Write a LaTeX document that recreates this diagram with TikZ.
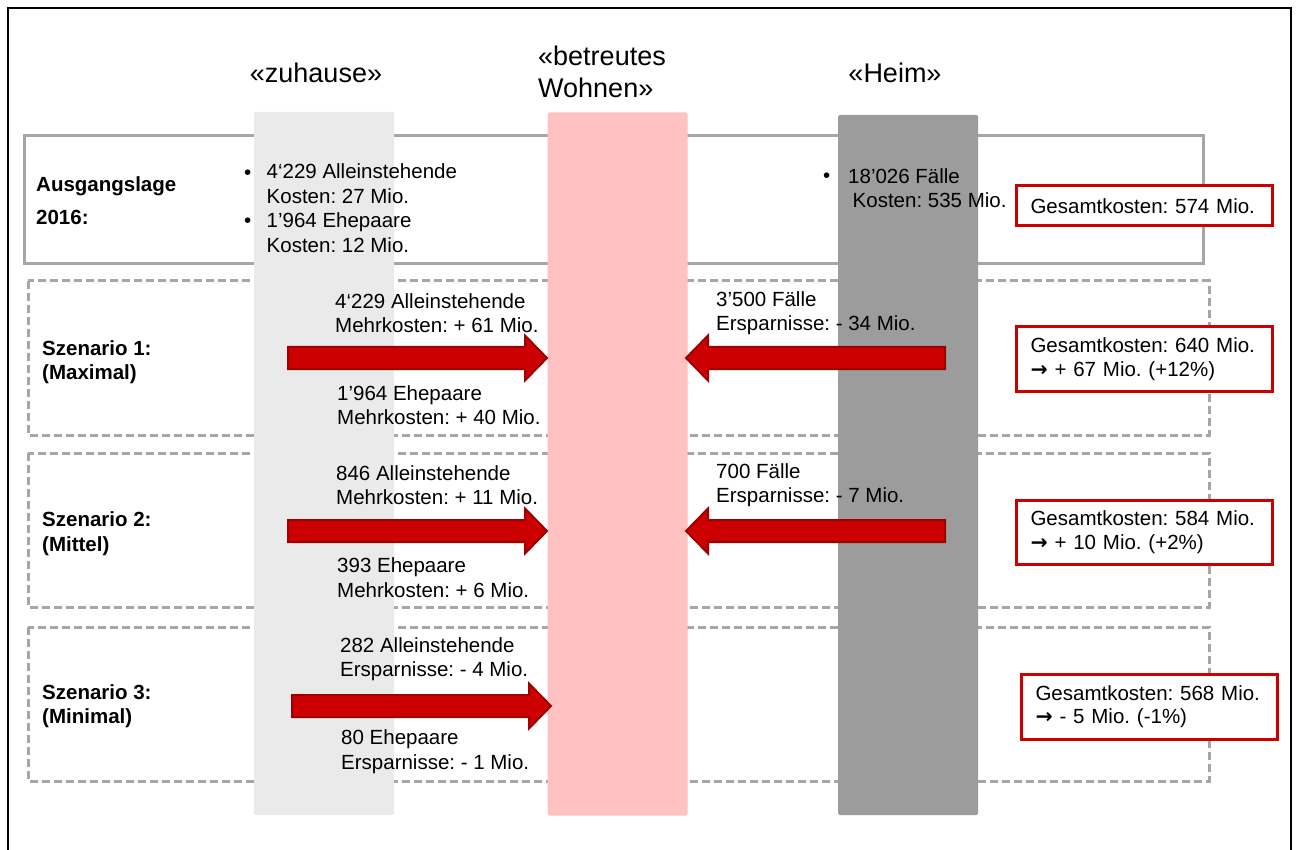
\documentclass[tikz,border=0pt]{standalone}
\usepackage{fontspec}
\setmainfont{Liberation Sans}
\newfontfamily\symfont{DejaVu Sans}
\frenchspacing
\definecolor{colzu}{HTML}{EAEAEA}
\definecolor{colbw}{HTML}{FFC1C1}
\definecolor{colheim}{HTML}{9C9C9C}
\definecolor{rowgray}{HTML}{A6A6A6}
\definecolor{boxred}{HTML}{CC0000}
\definecolor{arrowedge}{HTML}{9E0000}

% block arrow pointing right: tail x, tip x, centre y
\newcommand\rightblock[3]{%
  \filldraw[blockarrow] (#1,#3-11) -- (#2-22,#3-11) -- (#2-22,#3-22.5) -- (#2,#3)
    -- (#2-22,#3+22.5) -- (#2-22,#3+11) -- (#1,#3+11) -- cycle;}
% block arrow pointing left: tail x, tip x, centre y
\newcommand\leftblock[3]{%
  \filldraw[blockarrow] (#1,#3-11) -- (#2+22,#3-11) -- (#2+22,#3-22.5) -- (#2,#3)
    -- (#2+22,#3+22.5) -- (#2+22,#3+11) -- (#1,#3+11) -- cycle;}

\begin{document}
\begin{tikzpicture}[x=1pt,y=-1pt,
  rowsolid/.style={draw=rowgray, line width=3},
  rowdash/.style={draw=rowgray, line width=3, dash pattern=on 8pt off 4pt},
  column/.style={inner sep=0, draw=none, minimum width=140, minimum height=703, rounded corners=1.5},
  head/.style={inner sep=0, align=left, font=\fontsize{27}{32}\selectfont},
  txt/.style={anchor=west, inner sep=0, align=left, font=\fontsize{20.5}{24.5}\selectfont},
  lbl/.style={anchor=west, inner sep=0, align=left, font=\bfseries\fontsize{20.5}{24.5}\selectfont},
  redbox/.style={draw=boxred, fill=white, line width=3, minimum width=256, text width=228,
    inner xsep=14, inner ysep=0, align=left, font=\fontsize{20.5}{23.5}\selectfont},
  blockarrow/.style={fill=boxred, draw=arrowedge, line width=2, line join=miter}]
\useasboundingbox (0,0) rectangle (1296,850);
\fill[white] (0,0) rectangle (1296,850);

% outer frame
\draw[line width=1.5] (8,850) -- (8,8) -- (1291,8) -- (1291,850);

% row frames
\draw[rowsolid] (24,136) rectangle (1203,264);
\draw[rowdash] (28,281) rectangle (1209,435);
\draw[rowdash] (28,453) rectangle (1209,607);
\draw[rowdash] (28,627) rectangle (1209,781);

% columns
\node[column, fill=colzu] (zuhause) at (324,463.5) {};
\node[column, fill=colbw] (betreut) at (617.5,464) {};
\node[column, fill=colheim, minimum height=700] (heim) at (908,465) {};

% column headings
\node[head] (hzu) at (316,73) {«zuhause»};
\node[head, anchor=west] (hbw) at (538,72) {«betreutes\\Wohnen»};
\node[head] (hheim) at (895,73) {«Heim»};

% row labels
\node[lbl, font=\bfseries\fontsize{20.5}{33}\selectfont] (l0) at (36,201) {Ausgangslage\\2016:};
\node[lbl] (l1) at (42,362) {Szenario 1:\\(Maximal)};
\node[lbl] (l2) at (42,533.5) {Szenario 2:\\(Mittel)};
\node[lbl] (l3) at (42,706) {Szenario 3:\\(Minimal)};

% starting situation
\node[txt] (b1) at (244,175) {•};
\node[txt] (b2) at (244,223) {•};
\node[txt] (a0) at (266.5,208) {4‘229 Alleinstehende\\Kosten: 27 Mio.\\1’964 Ehepaare\\Kosten: 12 Mio.};
\node[txt] (b3) at (823,178) {•};
\node[txt] (h0a) at (848,176.5) {18’026 Fälle};
\node[txt] (h0b) at (852.5,200.5) {Kosten: 535 Mio.};

% scenario 1
\rightblock{288}{547}{358}
\leftblock{945}{686}{358}
\node[txt] (s1a) at (335,313) {4‘229 Alleinstehende\\Mehrkosten: + 61 Mio.};
\node[txt] (s1b) at (337,405) {1’964 Ehepaare\\Mehrkosten: + 40 Mio.};
\node[txt] (s1c) at (716,313) {3’500 Fälle\\Ersparnisse: - 34 Mio.};

% scenario 2
\rightblock{288}{547}{531}
\leftblock{945}{686}{531}
\node[txt] (s2a) at (336,485) {846 Alleinstehende\\Mehrkosten: + 11 Mio.};
\node[txt] (s2b) at (337,577.5) {393 Ehepaare\\Mehrkosten: + 6 Mio.};
\node[txt] (s2c) at (716,485) {700 Fälle\\Ersparnisse: - 7 Mio.};

% scenario 3
\rightblock{292}{551}{706}
\node[txt] (s3a) at (340,659) {282 Alleinstehende\\Ersparnisse: - 4 Mio.};
\node[txt] (s3b) at (341,751.5) {80 Ehepaare\\Ersparnisse: - 1 Mio.};

% total costs
\node[redbox, minimum height=40] (g0) at (1144.5,206) {Gesamtkosten: 574 Mio.};
\node[redbox, minimum height=64] (g1) at (1144.5,359) {Gesamtkosten: 640 Mio.\\{\symfont\bfseries →} + 67 Mio. (+12\%)};
\node[redbox, minimum height=64] (g2) at (1144.5,532) {Gesamtkosten: 584 Mio.\\{\symfont\bfseries →} + 10 Mio. (+2\%)};
\node[redbox, minimum height=65] (g3) at (1149.5,706.5) {Gesamtkosten: 568 Mio.\\{\symfont\bfseries →} - 5 Mio. (-1\%)};
\end{tikzpicture}
\end{document}
